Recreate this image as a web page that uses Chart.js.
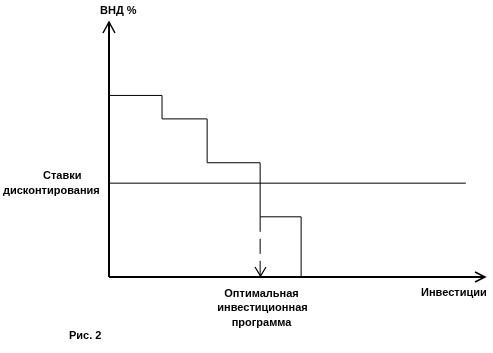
<!DOCTYPE html>
<html>
<head>
<meta charset="utf-8">
<script src="https://cdn.jsdelivr.net/npm/chart.js@4"></script>
<style>
  body { margin: 0; background: #fff; }
  canvas { display: block; }
</style>
</head>
<body>
<canvas id="irrChart" width="493" height="353"></canvas>
<script>
// значения
const investEdges = [0, 14.1, 26.1, 40.2, 51.1];   // границы проектов по оси инвестиций
const irrValues = [17.8, 15.5, 11.2, 5.9, 0];      // ВНД %
const discountRate = 9.2;
const discountEnd = 94.9;
const optimumIndex = 3;
const xMax = 100, yMax = 25;

document.addEventListener("DOMContentLoaded", function () {
  const ctx = document.getElementById('irrChart').getContext('2d');
  const FONT = 'bold 11px "Liberation Sans", Arial, sans-serif';

  const steps = investEdges.map((x, i) => ({ x: x, y: irrValues[i] }));
  const optX = investEdges[optimumIndex];

  // оси со стрелками и подписи
  const extras = {
    id: 'extras',
    afterDatasetsDraw(chart) {
      const c = chart.ctx;
      const xs = chart.scales.x, ys = chart.scales.y;
      const x0 = Math.round(xs.getPixelForValue(0));
      const y0 = Math.round(ys.getPixelForValue(0));
      const xEnd = Math.round(xs.getPixelForValue(xMax));
      const yTop = Math.round(ys.getPixelForValue(yMax));
      c.save();
      c.strokeStyle = '#000';
      c.lineWidth = 2;
      c.beginPath();
      c.moveTo(x0, y0); c.lineTo(x0, yTop);
      c.moveTo(x0, y0); c.lineTo(xEnd, y0);
      c.stroke();
      c.lineWidth = 1.5;
      c.beginPath();
      c.moveTo(x0 - 6, yTop + 11); c.lineTo(x0, yTop); c.lineTo(x0 + 6, yTop + 11);
      c.moveTo(xEnd - 10, y0 - 5); c.lineTo(xEnd, y0); c.lineTo(xEnd - 10, y0 + 5);
      c.stroke();
      // стрелка на оптимальной программе
      const ox = Math.round(xs.getPixelForValue(optX)) + 0.5;
      c.lineWidth = 1.2;
      c.beginPath();
      c.moveTo(ox - 5.5, y0 - 10); c.lineTo(ox, y0 - 1); c.lineTo(ox + 5.5, y0 - 10);
      c.stroke();

      c.fillStyle = '#000';
      c.font = FONT;
      c.textBaseline = 'middle';
      c.textAlign = 'left';
      c.fillText('ВНД %', 100, 11);
      c.fillText('Ставки', 43, 176);
      c.fillText('дисконтирования', 3, 191);
      c.fillText('Инвестиции', 421, 293);
      c.fillText('Рис. 2', 69, 336);
      c.textAlign = 'center';
      c.fillText('Оптимальная', ox + 1, 294);
      c.fillText('инвестиционная', ox + 2, 308);
      c.fillText('программа', ox + 1, 323);
      c.restore();
    }
  };

  new Chart(ctx, {
    type: 'line',
    data: {
      datasets: [
        {
          data: steps,
          stepped: 'before',
          borderColor: '#000',
          borderWidth: 1,
          pointRadius: 0,
          fill: false
        },
        {
          data: [{ x: 0, y: discountRate }, { x: discountEnd, y: discountRate }],
          borderColor: '#000',
          borderWidth: 1,
          pointRadius: 0
        },
        {
          data: [{ x: optX, y: irrValues[optimumIndex] }, { x: optX, y: 0 }],
          borderColor: '#000',
          borderWidth: 1,
          borderDash: [15, 7],
          pointRadius: 0
        }
      ]
    },
    options: {
      responsive: false,
      animation: false,
      layout: { padding: { left: 109, right: 8, top: 22, bottom: 76 } },
      scales: {
        x: { type: 'linear', min: 0, max: xMax, display: false },
        y: { type: 'linear', min: 0, max: yMax, display: false }
      },
      plugins: {
        legend: { display: false },
        tooltip: { enabled: false }
      }
    },
    plugins: [extras]
  });
});
</script>
</body>
</html>
